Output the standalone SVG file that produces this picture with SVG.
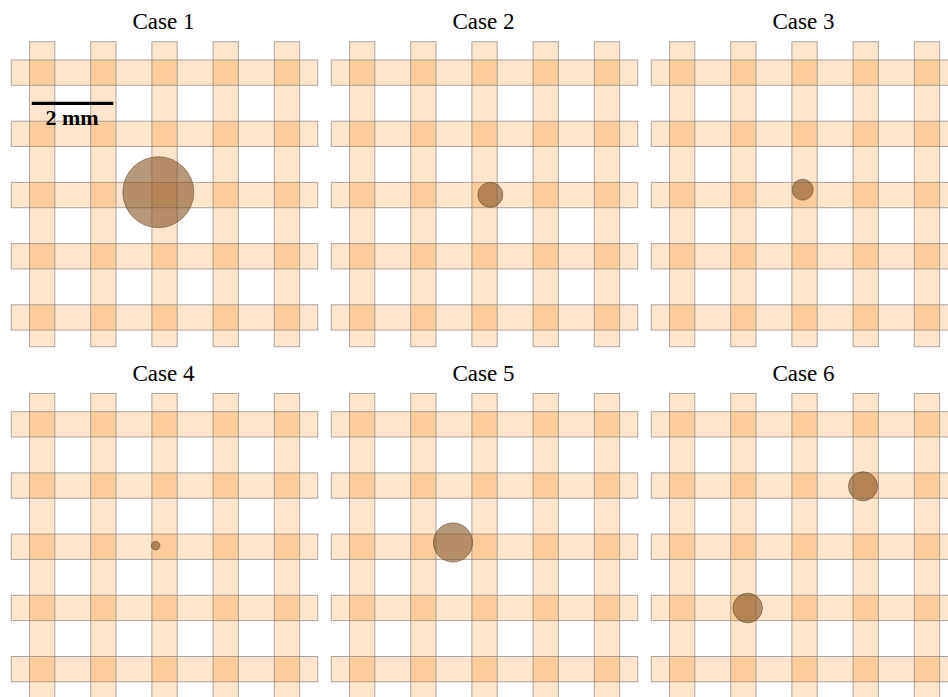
<svg xmlns="http://www.w3.org/2000/svg" xmlns:xlink="http://www.w3.org/1999/xlink" width="948" height="697" viewBox="0 0 948 697">
<style>
.s{fill:#FFE5CB}
.o{fill:#FDCC98}
.e{fill:none;stroke:#8f8a85;stroke-opacity:0.75;stroke-width:1}
.t{font-family:"Liberation Serif","Times New Roman",serif;font-size:23px;text-anchor:middle;fill:#000}
.p{fill:#80501F;fill-opacity:0.58;stroke:#5a3a1e;stroke-opacity:0.5;stroke-width:1}
</style>
<defs>
<g id="grid">
<rect class="s" x="11.3" y="60" width="306.4" height="25.3"/>
<rect class="s" x="11.3" y="121.2" width="306.4" height="25.3"/>
<rect class="s" x="11.3" y="182.4" width="306.4" height="25.3"/>
<rect class="s" x="11.3" y="243.6" width="306.4" height="25.3"/>
<rect class="s" x="11.3" y="304.8" width="306.4" height="25.3"/>
<rect class="s" x="29.5" y="41.7" width="25.3" height="305"/>
<rect class="s" x="90.7" y="41.7" width="25.3" height="305"/>
<rect class="s" x="151.9" y="41.7" width="25.3" height="305"/>
<rect class="s" x="213.1" y="41.7" width="25.3" height="305"/>
<rect class="s" x="274.3" y="41.7" width="25.3" height="305"/>
<g id="orow">
<rect class="o" x="29.5" y="60" width="25.3" height="25.3"/>
<rect class="o" x="90.7" y="60" width="25.3" height="25.3"/>
<rect class="o" x="151.9" y="60" width="25.3" height="25.3"/>
<rect class="o" x="213.1" y="60" width="25.3" height="25.3"/>
<rect class="o" x="274.3" y="60" width="25.3" height="25.3"/>
</g>
<use xlink:href="#orow" href="#orow" y="61.2"/>
<use xlink:href="#orow" href="#orow" y="122.4"/>
<use xlink:href="#orow" href="#orow" y="183.6"/>
<use xlink:href="#orow" href="#orow" y="244.8"/>
<rect class="e" x="11.3" y="60" width="306.4" height="25.3"/>
<rect class="e" x="11.3" y="121.2" width="306.4" height="25.3"/>
<rect class="e" x="11.3" y="182.4" width="306.4" height="25.3"/>
<rect class="e" x="11.3" y="243.6" width="306.4" height="25.3"/>
<rect class="e" x="11.3" y="304.8" width="306.4" height="25.3"/>
<rect class="e" x="29.5" y="41.7" width="25.3" height="305"/>
<rect class="e" x="90.7" y="41.7" width="25.3" height="305"/>
<rect class="e" x="151.9" y="41.7" width="25.3" height="305"/>
<rect class="e" x="213.1" y="41.7" width="25.3" height="305"/>
<rect class="e" x="274.3" y="41.7" width="25.3" height="305"/>
</g>
</defs>
<g id="case1">
<use xlink:href="#grid" href="#grid"/>
<text class="t" x="163.5" y="29">Case 1</text>
<circle class="p" cx="158.3" cy="192.2" r="35.5"/>
</g>
<g id="case2">
<use xlink:href="#grid" href="#grid" x="320"/>
<text class="t" x="483.5" y="29">Case 2</text>
<circle class="p" cx="490.3" cy="194.8" r="12.5"/>
</g>
<g id="case3">
<use xlink:href="#grid" href="#grid" x="640"/>
<text class="t" x="803.5" y="29">Case 3</text>
<circle class="p" cx="802.7" cy="189.7" r="10.5"/>
</g>
<g id="case4">
<use xlink:href="#grid" href="#grid" y="351.7"/>
<text class="t" x="163.5" y="380.7">Case 4</text>
<circle class="p" cx="155.6" cy="545.6" r="4.3"/>
</g>
<g id="case5">
<use xlink:href="#grid" href="#grid" x="320" y="351.7"/>
<text class="t" x="483.5" y="380.7">Case 5</text>
<circle class="p" cx="453" cy="542.5" r="19.6"/>
</g>
<g id="case6">
<use xlink:href="#grid" href="#grid" x="640" y="351.7"/>
<text class="t" x="803.5" y="380.7">Case 6</text>
<circle class="p" cx="863" cy="486.3" r="14.6"/>
<circle class="p" cx="747.7" cy="608" r="14.8"/>
</g>
<g id="scalebar">
<line x1="31.7" y1="103.3" x2="113.3" y2="103.3" stroke="#000" stroke-width="3.2"/>
<text x="72" y="124.5" font-family="Liberation Serif, Times New Roman, serif" font-size="22" font-weight="bold" text-anchor="middle">2 mm</text>
</g>
</svg>
